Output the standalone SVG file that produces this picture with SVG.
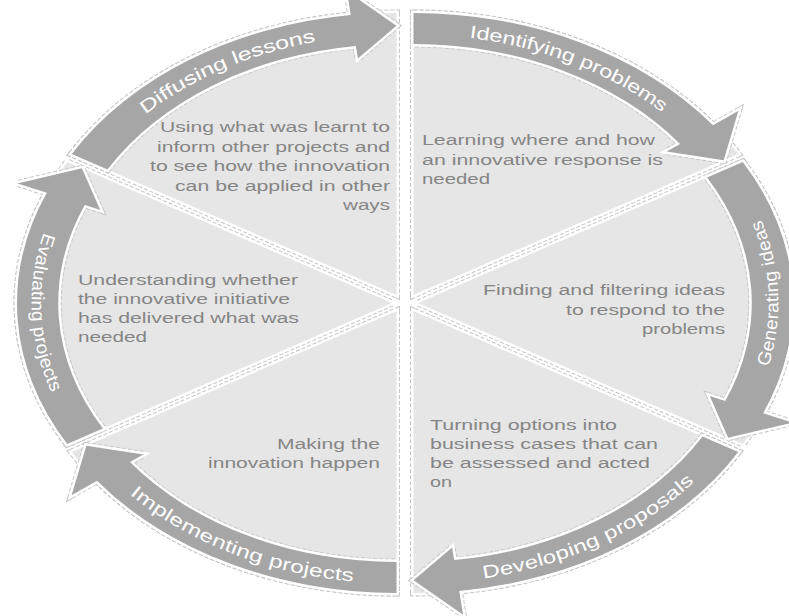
<svg xmlns="http://www.w3.org/2000/svg" xmlns:xlink="http://www.w3.org/1999/xlink" width="789" height="616" viewBox="0 0 789 616">
<style>
.dash{fill:none;stroke:#c6c6c6;stroke-width:7;stroke-dasharray:4 2}
.wht{fill:none;stroke:#ffffff;stroke-width:5}
.sec{fill:#e6e6e6}
.arw{fill:#a6a6a6}
.txt{font-family:"Liberation Sans",Arial,sans-serif;font-size:14px;fill:#858585}
.lbl{font-family:"Liberation Sans",Arial,sans-serif;font-size:18px;fill:#ffffff;dominant-baseline:central}
</style>
<defs>
<path id="secp" d="M0,0 L0,-100 A100,100 0 0 1 86.603,-50 Z" vector-effect="non-scaling-stroke"/>
<path id="arwp" d="M0,-100 A100,100 0 0 1 79.864,-60.182 L86.652,-65.297 L82.706,-47.75 L67.485,-50.854 L71.079,-53.562 A89,89 0 0 0 0,-89 Z" vector-effect="non-scaling-stroke"/>
<path id="p-ident" d="M413.5,28.5 A354.4,266.5 0 0 1 707.3,146"/>
<path id="p-gen" d="M736.5,419.8 A354.4,266.5 0 0 0 724.9,169.75"/>
<path id="p-dev" d="M438.2,576.85 A354.4,266.5 0 0 0 720.4,444.25"/>
<path id="p-impl" d="M102.7,460 A354.4,266.5 0 0 0 396.5,577.5"/>
<path id="p-eval" d="M73.5,186.2 A354.4,266.5 0 0 0 85.1,436.25"/>
<path id="p-diff" d="M95.95,153.8 A354.4,266.5 0 0 1 377.95,28.9"/>
</defs>
<rect width="789" height="616" fill="#ffffff"/>

<g id="node-identifying">
<g transform="translate(413.5 295) scale(3.75 2.82)">
<use href="#secp" class="dash"/><use href="#secp" class="wht"/><use href="#secp" class="sec"/>
<use href="#arwp" class="dash"/><use href="#arwp" class="wht"/><use href="#arwp" class="arw"/>
</g>
<text class="lbl"><textPath href="#p-ident" startOffset="50%" text-anchor="middle" textLength="212" lengthAdjust="spacingAndGlyphs">Identifying problems</textPath></text>
<text class="txt" x="422" y="145" textLength="233" lengthAdjust="spacingAndGlyphs">Learning where and how</text>
<text class="txt" x="422" y="164.5" textLength="241" lengthAdjust="spacingAndGlyphs">an innovative  response is</text>
<text class="txt" x="422" y="184" textLength="68" lengthAdjust="spacingAndGlyphs">needed</text>
</g>

<g id="node-generating">
<g transform="translate(418 303) scale(3.75 2.82) rotate(60)">
<use href="#secp" class="dash"/><use href="#secp" class="wht"/><use href="#secp" class="sec"/>
<use href="#arwp" class="dash"/><use href="#arwp" class="wht"/><use href="#arwp" class="arw"/>
</g>
<text class="lbl"><textPath href="#p-gen" startOffset="50%" text-anchor="middle" textLength="147" lengthAdjust="spacingAndGlyphs">Generating ideas</textPath></text>
<text class="txt" x="725" y="295" text-anchor="end" textLength="242" lengthAdjust="spacingAndGlyphs">Finding and filtering ideas</text>
<text class="txt" x="725" y="314.5" text-anchor="end" textLength="159" lengthAdjust="spacingAndGlyphs">to respond to the</text>
<text class="txt" x="725" y="333.5" text-anchor="end" textLength="83" lengthAdjust="spacingAndGlyphs">problems</text>
</g>

<g id="node-developing">
<g transform="translate(413.5 311) scale(3.75 2.82) rotate(120)">
<use href="#secp" class="dash"/><use href="#secp" class="wht"/><use href="#secp" class="sec"/>
<use href="#arwp" class="dash"/><use href="#arwp" class="wht"/><use href="#arwp" class="arw"/>
</g>
<text class="lbl"><textPath href="#p-dev" startOffset="50%" text-anchor="middle" textLength="232" lengthAdjust="spacingAndGlyphs">Developing proposals</textPath></text>
<text class="txt" x="430" y="430" textLength="187" lengthAdjust="spacingAndGlyphs">Turning options into</text>
<text class="txt" x="430" y="449" textLength="228" lengthAdjust="spacingAndGlyphs">business cases that can</text>
<text class="txt" x="430" y="468" textLength="220" lengthAdjust="spacingAndGlyphs">be assessed and acted</text>
<text class="txt" x="430" y="487" textLength="22" lengthAdjust="spacingAndGlyphs">on</text>
</g>

<g id="node-implementing">
<g transform="translate(396.5 311) scale(3.75 2.82) rotate(180)">
<use href="#secp" class="dash"/><use href="#secp" class="wht"/><use href="#secp" class="sec"/>
<use href="#arwp" class="dash"/><use href="#arwp" class="wht"/><use href="#arwp" class="arw"/>
</g>
<text class="lbl"><textPath href="#p-impl" startOffset="50%" text-anchor="middle" textLength="240" lengthAdjust="spacingAndGlyphs">Implementing projects</textPath></text>
<text class="txt" x="380" y="448.5" text-anchor="end" textLength="103" lengthAdjust="spacingAndGlyphs">Making the</text>
<text class="txt" x="380" y="468" text-anchor="end" textLength="172" lengthAdjust="spacingAndGlyphs">innovation happen</text>
</g>

<g id="node-evaluating">
<g transform="translate(392 303) scale(3.75 2.82) rotate(240)">
<use href="#secp" class="dash"/><use href="#secp" class="wht"/><use href="#secp" class="sec"/>
<use href="#arwp" class="dash"/><use href="#arwp" class="wht"/><use href="#arwp" class="arw"/>
</g>
<text class="lbl"><textPath href="#p-eval" startOffset="50%" text-anchor="middle" textLength="160" lengthAdjust="spacingAndGlyphs">Evaluating projects</textPath></text>
<text class="txt" x="78" y="285" textLength="220" lengthAdjust="spacingAndGlyphs">Understanding whether</text>
<text class="txt" x="78" y="304.3" textLength="212" lengthAdjust="spacingAndGlyphs">the innovative initiative</text>
<text class="txt" x="78" y="323.3" textLength="221" lengthAdjust="spacingAndGlyphs">has delivered what was</text>
<text class="txt" x="78" y="342.3" textLength="69" lengthAdjust="spacingAndGlyphs">needed</text>
</g>

<g id="node-diffusing">
<g transform="translate(396.5 295) scale(3.75 2.82) rotate(300)">
<use href="#secp" class="dash"/><use href="#secp" class="wht"/><use href="#secp" class="sec"/>
<use href="#arwp" class="dash"/><use href="#arwp" class="wht"/><use href="#arwp" class="arw"/>
</g>
<text class="lbl"><textPath href="#p-diff" startOffset="50%" text-anchor="middle" textLength="190" lengthAdjust="spacingAndGlyphs">Diffusing lessons</textPath></text>
<text class="txt" x="390" y="132" text-anchor="end" textLength="230" lengthAdjust="spacingAndGlyphs">Using what was learnt to</text>
<text class="txt" x="390" y="151.5" text-anchor="end" textLength="233" lengthAdjust="spacingAndGlyphs">inform other projects and</text>
<text class="txt" x="390" y="171.2" text-anchor="end" textLength="240" lengthAdjust="spacingAndGlyphs">to see how the innovation</text>
<text class="txt" x="390" y="190.9" text-anchor="end" textLength="215" lengthAdjust="spacingAndGlyphs">can be applied  in other</text>
<text class="txt" x="390" y="210" text-anchor="end" textLength="47" lengthAdjust="spacingAndGlyphs">ways</text>
</g>
</svg>
